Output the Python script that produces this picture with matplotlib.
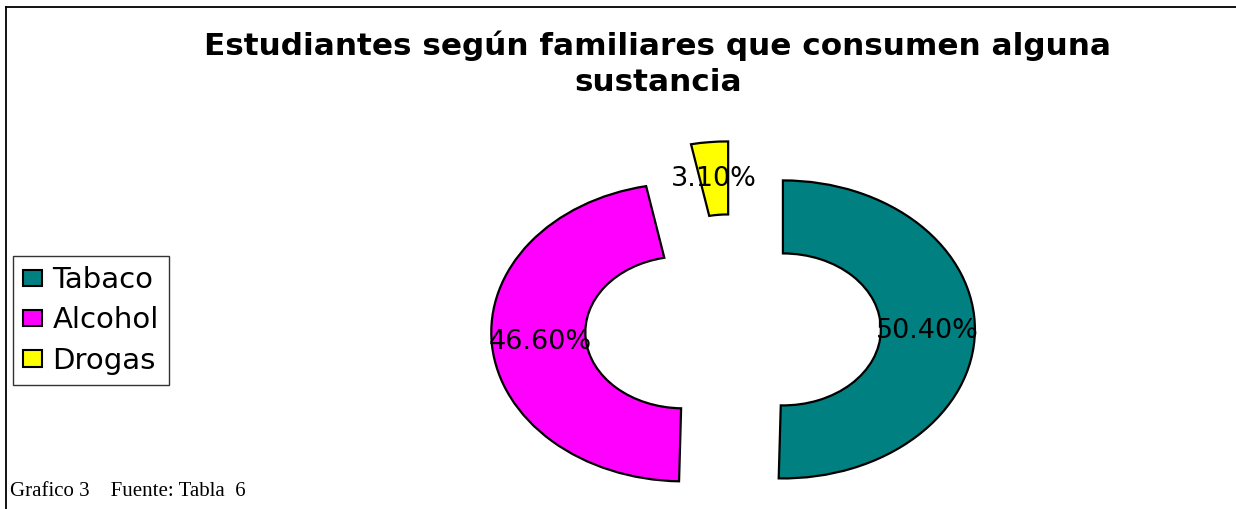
"""plot.py"""

import matplotlib.pyplot as plt
from matplotlib.lines import Line2D
from matplotlib.patches import Patch

categories = ["Tabaco", "Alcohol", "Drogas"]
values = [50.4, 46.6, 3.1]
colors = ["#008080", "#FF00FF", "#FFFF00"]

W, H = 1236, 509
fig = plt.figure(figsize=(W / 100, H / 100), dpi=100)

# ellipse: 1 unit = 192 px wide, 149 px tall, centre at (733, 329) from top
cx, cy = 733, 329
rx, ry = 192, 149
xl, yl = 1.5, 1.5
ax = fig.add_axes([(cx - xl * rx) / W, (H - cy - yl * ry) / H,
                   2 * xl * rx / W, 2 * yl * ry / H])

wedges, texts, autotexts = ax.pie(
    values, colors=colors, startangle=90, counterclock=False,
    explode=[0.26] * 3, autopct="%.2f%%", pctdistance=0.75,
    wedgeprops=dict(width=0.49, edgecolor="black", linewidth=1.6),
    textprops=dict(fontsize=19.5, family="DejaVu Sans"))
for t, v in zip(autotexts, values):
    t.set_text(f"{v:.2f}%")
ax.set_xlim(-xl, xl)
ax.set_ylim(-yl, yl)
ax.set_aspect("auto")
ax.axis("off")

fig.text(658 / W, 1 - 64 / H,
         "Estudiantes según familiares que consumen alguna\nsustancia",
         ha="center", va="center", fontsize=22.4, fontweight="bold",
         family="DejaVu Sans", linespacing=1.3)

handles = [Patch(facecolor=c, edgecolor="black", linewidth=1.5) for c in colors]
leg = fig.legend(handles, categories, loc="upper left",
                 bbox_to_anchor=(13 / W, 1 - 256 / H),
                 prop=dict(family="DejaVu Sans", size=21),
                 frameon=True, fancybox=False, edgecolor="black",
                 handlelength=0.65, handleheight=0.5, handletextpad=0.35,
                 labelspacing=0.42, borderpad=0.35, borderaxespad=0)
leg.get_frame().set_linewidth(1.0)

fig.text(10 / W, 1 - 491 / H, "Grafico 3    Fuente: Tabla  6",
         ha="left", va="center", fontsize=15, family="Liberation Serif")

# frame lines: left and top only
fig.add_artist(Line2D([6 / W, 6 / W], [0, 1 - 7 / H], color="black", lw=1.3))
fig.add_artist(Line2D([6 / W, 1], [1 - 7 / H, 1 - 7 / H], color="black", lw=1.3))

fig.savefig("out.png", dpi=100)
